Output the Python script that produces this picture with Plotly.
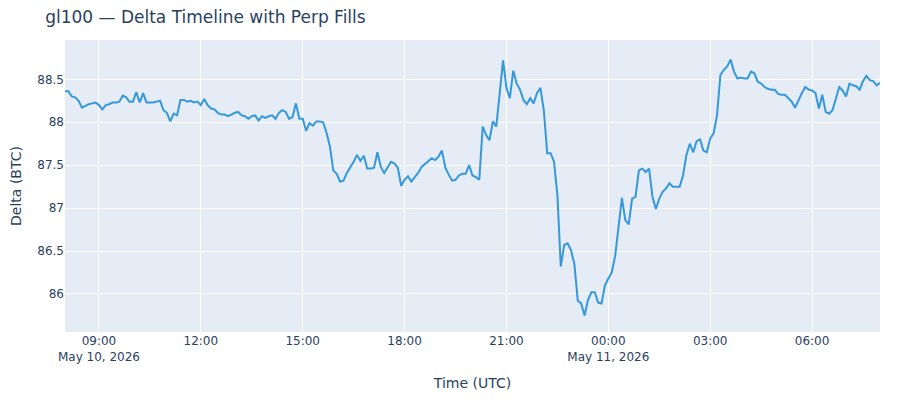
import pandas as pd
import plotly.graph_objects as go

# delta readings every 6 minutes, 08:00 May 10 -> 08:00 May 11 (UTC)
start_time = "2026-05-10 08:00"
step = "6min"

delta_btc = [
    88.36, 88.36, 88.30, 88.29, 88.25, 88.17, 88.19, 88.21, 88.22, 88.23,
    88.20, 88.15, 88.20, 88.21, 88.23, 88.23, 88.24, 88.31, 88.29, 88.24,
    88.24, 88.35, 88.23, 88.34, 88.23, 88.23, 88.23, 88.24, 88.25, 88.14,
    88.11, 88.01, 88.10, 88.08, 88.26, 88.26, 88.24, 88.25, 88.23, 88.24,
    88.20, 88.27, 88.20, 88.16, 88.15, 88.11, 88.09, 88.09, 88.07, 88.09,
    88.11, 88.12, 88.08, 88.07, 88.04, 88.07, 88.08, 88.02, 88.07, 88.05,
    88.07, 88.08, 88.04, 88.11, 88.14, 88.12, 88.04, 88.06, 88.22, 88.04,
    88.04, 87.90, 87.99, 87.96, 88.01, 88.01, 88.00, 87.88, 87.72, 87.44,
    87.40, 87.31, 87.32, 87.41, 87.47, 87.54, 87.62, 87.55, 87.61, 87.46,
    87.46, 87.47, 87.65, 87.48, 87.41, 87.48, 87.54, 87.52, 87.47, 87.26,
    87.33, 87.37, 87.31, 87.36, 87.41, 87.48, 87.51, 87.55, 87.58, 87.56,
    87.60, 87.67, 87.47, 87.39, 87.32, 87.33, 87.38, 87.40, 87.40, 87.50,
    87.38, 87.36, 87.33, 87.95, 87.85, 87.79, 88.01, 87.95, 88.30, 88.72,
    88.40, 88.28, 88.60, 88.45, 88.38, 88.26, 88.21, 88.28, 88.22, 88.34,
    88.40, 88.14, 87.64, 87.64, 87.54, 87.15, 86.32, 86.57, 86.59, 86.51,
    86.35, 85.92, 85.89, 85.75, 85.93, 86.02, 86.02, 85.90, 85.89, 86.10,
    86.18, 86.25, 86.44, 86.82, 87.12, 86.86, 86.81, 87.11, 87.13, 87.44,
    87.46, 87.42, 87.46, 87.13, 86.99, 87.11, 87.19, 87.23, 87.29, 87.25,
    87.25, 87.25, 87.38, 87.62, 87.75, 87.65, 87.78, 87.80, 87.67, 87.65,
    87.81, 87.87, 88.08, 88.55, 88.61, 88.65, 88.73, 88.59, 88.51, 88.52,
    88.51, 88.51, 88.59, 88.57, 88.47, 88.45, 88.41, 88.39, 88.38, 88.38,
    88.33, 88.32, 88.32, 88.28, 88.24, 88.17, 88.26, 88.34, 88.41, 88.38,
    88.37, 88.34, 88.16, 88.32, 88.12, 88.10, 88.14, 88.28, 88.41, 88.37,
    88.30, 88.45, 88.43, 88.42, 88.38, 88.48, 88.54, 88.49, 88.48, 88.43,
    88.46,
]

times = pd.date_range(start_time, periods=len(delta_btc), freq=step)

fig = go.Figure()
fig.add_trace(go.Scatter(
    x=times, y=delta_btc, mode="lines", name="Delta",
    line=dict(color="#3498db", width=2),
))

# page body adds an 8px offset, margins below compensate for it
fig.update_layout(
    template="plotly",
    font=dict(family="Verdana, DejaVu Sans, sans-serif"),
    title=dict(text="gl100 — Delta Timeline with Perp Fills",
               x=0.042, xanchor="left", y=0.976, yanchor="middle"),
    xaxis_title="Time (UTC)",
    yaxis_title="Delta (BTC)",
    margin=dict(l=57, r=12, t=32, b=60),
    showlegend=False,
)
fig.update_xaxes(range=[times[0], times[-1]], automargin=False)
fig.update_yaxes(range=[85.557, 88.958], automargin=False)

fig.write_html("out.html")
